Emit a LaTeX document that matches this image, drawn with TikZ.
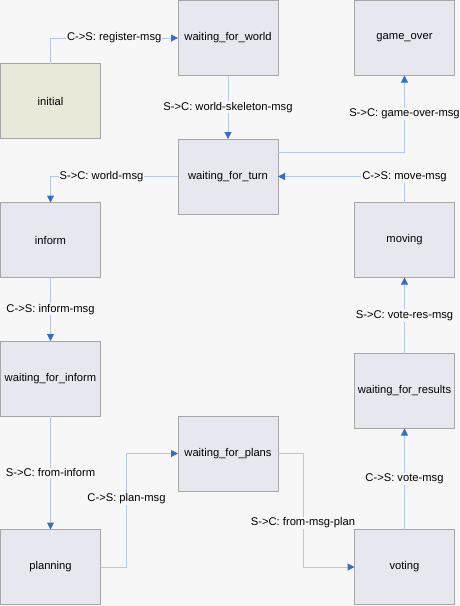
\documentclass[tikz,border=0pt]{standalone}
\usepackage{fontspec}
\setmainfont{Liberation Sans}
\usepackage{tikz}
\usetikzlibrary{arrows.meta}
\definecolor{bg}{HTML}{F7F7F7}
\definecolor{boxfill}{HTML}{E7E7F0}
\definecolor{initfill}{HTML}{E9E9DA}
\definecolor{boxline}{HTML}{A6A6A6}
\definecolor{linkline}{HTML}{B6C7EC}
\definecolor{tipblue}{HTML}{3A6BC6}

\begin{document}
\begin{tikzpicture}[x=1pt, y=-1pt,
  state/.style={draw=boxline, fill=boxfill, line width=1pt, minimum width=100pt,
    minimum height=75pt, inner sep=0pt, outer sep=0pt},
  link/.style={draw=linkline, line width=1pt,
    -{Triangle[length=7pt, width=7pt, color=tipblue]}},
  msg/.style={fill=bg, inner sep=1pt}]
\fontsize{11.2}{13}\selectfont
\fill[bg] (0,0) rectangle (459,606);
\useasboundingbox (0,0) rectangle (459,606);
% states
\node[state, fill=initfill] (init) at (50.5,101) {initial};
\foreach \nm/\x/\y/\txt in {
wfw/228/38/waiting\_for\_world, go/404.5/38/game\_over,
wft/228/176.5/waiting\_for\_turn,
inf/50.5/240/inform, mov/404.5/240/moving,
wfi/50.5/378.5/waiting\_for\_inform, wfr/404.5/391/waiting\_for\_results,
wfp/228/453.5/waiting\_for\_plans,
pln/50.5/567/planning, vot/404.5/567/voting
}{
\node[state] (\nm) at (\x,\y) {\txt};
}
% straight transitions
\foreach \a/\b/\txt in {
wfw/wft/S->C: world-skeleton-msg,
inf/wfi/C->S: inform-msg,
wfi/pln/S->C: from-inform,
vot/wfr/C->S: vote-msg,
wfr/mov/S->C: vote-res-msg
}{
\draw[link] (\a) -- node[msg] {\txt} (\b);
}
% bent transitions
\draw[link] (init.north) |- node[msg, pos=0.75] {C->S: register-msg} (wfw.west);
\draw[link] ([yshift=-13pt]wft.north east) -| node[msg, pos=0.75] {S->C: game-over-msg} (go.south);
\draw[link] (mov.north) |- node[msg] {C->S: move-msg} (wft.east);
\draw[link] (wft.west) -| node[msg, pos=0.3] {S->C: world-msg} (inf.north);
\draw[link] (pln.east) -- ++(26,0) |- node[msg, pos=0.3] {C->S: plan-msg} (wfp.west);
\draw[link] (wfp.east) -- ++(25,0) |- node[msg, pos=0.305] {S->C: from-msg-plan} (vot.west);
\end{tikzpicture}
\end{document}
